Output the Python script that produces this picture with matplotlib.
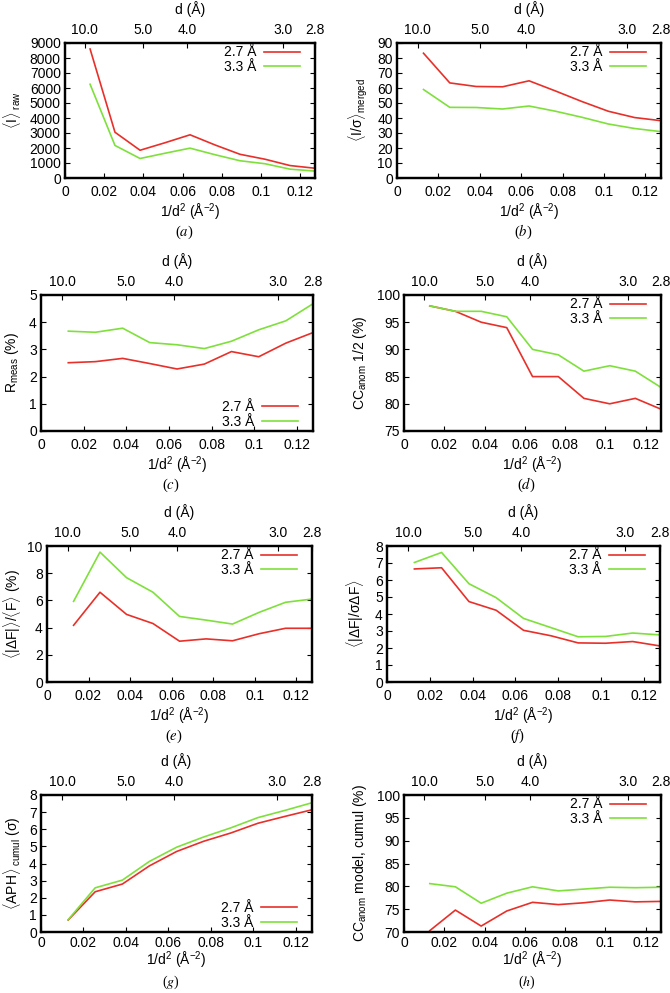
import matplotlib
matplotlib.use("Agg")
import matplotlib.pyplot as plt
from matplotlib.ticker import FuncFormatter

plt.rcParams['font.family'] = ['Liberation Sans', 'DejaVu Sans']
plt.rcParams['mathtext.fontset'] = 'custom'
plt.rcParams['mathtext.rm'] = 'Liberation Sans'
plt.rcParams['mathtext.it'] = 'Liberation Sans:italic'
plt.rcParams['mathtext.bf'] = 'Liberation Sans:bold'

# ---- data ----
inv_d2 = [0.0128, 0.0255, 0.0383, 0.0510, 0.0638, 0.0766, 0.0893, 0.1021, 0.1148, 0.1276]
series_names = ["2.7 Å", "3.3 Å"]
d_ticks = [10.0, 5.0, 4.0, 3.0, 2.8]
x_ticks = [0, 0.02, 0.04, 0.06, 0.08, 0.10, 0.12]

i_raw_27 = [8600, 3050, 1850, 2350, 2880, 2200, 1580, 1250, 830, 650]
i_raw_33 = [6250, 2170, 1300, 1650, 1990, 1550, 1150, 950, 590, 460]

isig_27 = [83.2, 63.4, 61.0, 60.8, 64.8, 58.0, 51.0, 44.5, 40.3, 38.2]
isig_33 = [59.0, 47.1, 47.0, 46.0, 48.0, 44.5, 40.5, 36.0, 33.0, 30.9]

rmeas_27 = [2.51, 2.55, 2.67, 2.48, 2.28, 2.46, 2.92, 2.73, 3.23, 3.62]
rmeas_33 = [3.67, 3.63, 3.78, 3.25, 3.17, 3.03, 3.30, 3.72, 4.05, 4.68]

cc_half_27 = [98, 97, 95, 94, 85, 85, 81, 80, 81, 79]
cc_half_33 = [98, 97, 97, 96, 90, 89, 86, 87, 86, 83]

df_f_27 = [4.17, 6.60, 4.97, 4.30, 3.00, 3.17, 3.03, 3.55, 3.95, 3.95]
df_f_33 = [5.93, 9.55, 7.67, 6.60, 4.82, 4.55, 4.26, 5.12, 5.86, 6.10]

df_sig_27 = [6.65, 6.72, 4.73, 4.22, 3.04, 2.72, 2.30, 2.28, 2.38, 2.12]
df_sig_33 = [7.03, 7.62, 5.78, 4.96, 3.74, 3.20, 2.66, 2.68, 2.88, 2.77]

aph_27 = [0.70, 2.35, 2.80, 3.86, 4.70, 5.30, 5.78, 6.35, 6.75, 7.14]
aph_33 = [0.72, 2.58, 3.03, 4.12, 4.95, 5.55, 6.08, 6.68, 7.10, 7.55]

cc_model_27 = [70.3, 74.8, 71.3, 74.6, 76.5, 76.0, 76.4, 77.0, 76.6, 76.7]
cc_model_33 = [80.6, 79.9, 76.3, 78.5, 79.9, 79.0, 79.4, 79.8, 79.7, 79.8]

RED = '#e8302a'
GREEN = '#7fe03c'
FS = 10

W, H = 670, 993
fig = plt.figure(figsize=(W / 100, H / 100), dpi=100)

panels = [
    # (left, right, top, bottom) px, ylabel centre x px, y27, y33, ylim, yticks, ylabel, legend loc, caption
    ((65, 315, 43, 178), 12, i_raw_27, i_raw_33, (0, 9000), list(range(0, 9001, 1000)),
     r"$\langle$I$\rangle_{\rm\ raw}$", 'upper right', 'a'),
    ((397, 661, 43, 178), 358, isig_27, isig_33, (0, 90), list(range(0, 91, 10)),
     r"$\langle$I/σ$\rangle_{\rm merged}$", 'upper right', 'b'),
    ((41, 313, 295, 431), 12, rmeas_27, rmeas_33, (0, 5), list(range(0, 6)),
     r"R$_{\rm meas}$ (%)", 'lower right', 'c'),
    ((404, 661, 295, 431), 360, cc_half_27, cc_half_33, (75, 100), list(range(75, 101, 5)),
     r"CC$_{\rm anom}$ 1/2 (%)", 'upper right', 'd'),
    ((47, 312, 546, 682), 12, df_f_27, df_f_33, (0, 10), list(range(0, 11, 2)),
     r"$\langle$|ΔF|$\rangle$/$\langle$F$\rangle$ (%)", 'upper right', 'e'),
    ((387, 660, 546, 682), 355, df_sig_27, df_sig_33, (0, 8), list(range(0, 9)),
     r"$\langle$|ΔF|/σΔF$\rangle$", 'upper right', 'f'),
    ((41, 312, 795, 932), 12, aph_27, aph_33, (0, 8), list(range(0, 9)),
     r"$\langle$APH$\rangle_{\rm\ cumul}$ (σ)", 'lower right', 'g'),
    ((404, 661, 795, 932), 360, cc_model_27, cc_model_33, (70, 100), list(range(70, 101, 5)),
     r"CC$_{\rm anom}$ model, cumul (%)", 'upper right', 'h'),
]

xmax = 1 / 2.8 ** 2
fmt = FuncFormatter(lambda v, p: "{:g}".format(round(v, 4)))

for (l, r, t, b), ylx, y27, y33, ylim, yticks, ylabel, loc, cap in panels:
    wpx, hpx = r - l, b - t
    bottom_row = b > 900
    ax = fig.add_axes([l / W, 1 - b / H, wpx / W, hpx / H])
    ax.plot(inv_d2, y27, color=RED, lw=1.2, label=series_names[0])
    ax.plot(inv_d2, y33, color=GREEN, lw=1.2, label=series_names[1])
    ax.set_xlim(0, xmax)
    ax.set_ylim(*ylim)
    ax.set_xticks(x_ticks)
    ax.xaxis.set_major_formatter(fmt)
    ax.set_yticks(yticks)
    ax.tick_params(axis='x', pad=3 if bottom_row else 5)
    ax.tick_params(direction='in', length=3.5, width=0.8, labelsize=FS,
                   right=True, top=False)
    ax.tick_params(axis='y', pad=3)
    for s in ax.spines.values():
        s.set_linewidth(1.6)
    ax.set_xlabel(r"1/d$^2$ (Å$^{-2}$)", fontsize=FS, labelpad=0 if bottom_row else 2)
    ax.set_ylabel(ylabel, fontsize=FS, va='center')
    ax.yaxis.set_label_coords((ylx - l) / wpx, 0.5)
    if loc == 'upper right':
        anchor = (1 - 14 / wpx, 1 - 1 / hpx)
    else:
        anchor = (1 - 14 / wpx, 1 / hpx)
    ax.legend(loc=loc, bbox_to_anchor=anchor, frameon=False, markerfirst=False,
              fontsize=FS, handlelength=2.6, handletextpad=0.5, labelspacing=0.05,
              borderaxespad=0.0, borderpad=0.1)

    ax2 = ax.twiny()
    ax2.set_xlim(0, xmax)
    ax2.set_xticks([1 / d ** 2 for d in d_ticks])
    ax2.set_xticklabels(["{:.1f}".format(d) for d in d_ticks])
    ax2.tick_params(direction='in', length=3.5, width=0.8, labelsize=FS, pad=4)
    for s in ax2.spines.values():
        s.set_linewidth(1.6)
    ax2.set_xlabel("d (Å)", fontsize=FS, labelpad=7)

    cx = (l + r) / 2 - 6
    cy = H - 11 if bottom_row else b + 54
    fig.text(cx / W, 1 - cy / H, r"($" + cap + r"$)", ha='center', va='center',
             fontsize=10 if bottom_row else 10.5, family='Liberation Serif',
             math_fontfamily='stix')

fig.savefig("out.png", dpi=100)
